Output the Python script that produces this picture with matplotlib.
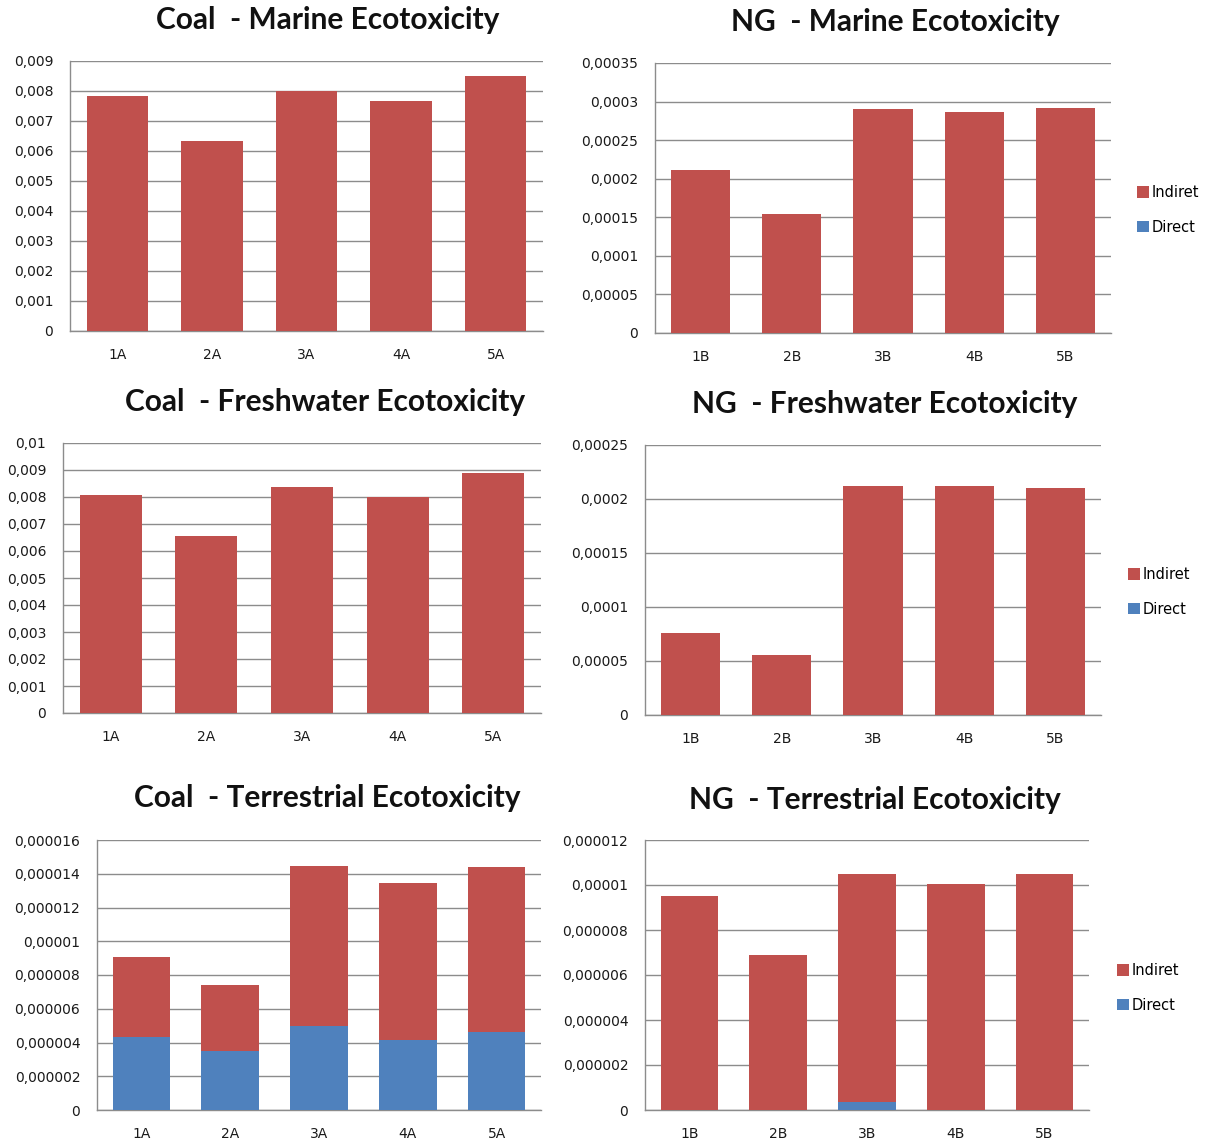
import matplotlib.pyplot as plt
import numpy as np
from matplotlib.patches import Patch
from matplotlib.ticker import FuncFormatter, MultipleLocator

plt.rcParams["font.family"] = ["DejaVu Sans"]

RED = "#C0504D"
BLUE = "#4F81BD"
GRID = "#8C8C8C"

coal_labels = ["1A", "2A", "3A", "4A", "5A"]
ng_labels = ["1B", "2B", "3B", "4B", "5B"]

# impacto directo / indirecto por escenario
coal_marine_direct = [0, 0, 0, 0, 0]
coal_marine_indiret = [0.00783, 0.00632, 0.00801, 0.00766, 0.00851]

ng_marine_direct = [0, 0, 0, 0, 0]
ng_marine_indiret = [0.000211, 0.000154, 0.000291, 0.000287, 0.000292]

coal_fresh_direct = [0, 0, 0, 0, 0]
coal_fresh_indiret = [0.00809, 0.00654, 0.00838, 0.00800, 0.00889]

ng_fresh_direct = [0, 0, 0, 0, 0]
ng_fresh_indiret = [0.0000755, 0.0000553, 0.0002125, 0.0002125, 0.000210]

coal_terr_direct = [0.00000431, 0.00000350, 0.00000497, 0.00000415, 0.00000465]
coal_terr_indiret = [0.00000477, 0.00000388, 0.00000947, 0.00000928, 0.00000977]

ng_terr_direct = [0, 0, 0.00000034, 0, 0]
ng_terr_indiret = [0.00000951, 0.00000691, 0.00001013, 0.00001004, 0.00001047]

W, H = 1214, 1144


def px_axes(fig, left, right, top, bottom):
    return fig.add_axes([left / W, 1 - bottom / H, (right - left) / W, (bottom - top) / H])


def coma(v, pos):
    if abs(v) < 1e-15:
        return "0"
    s = np.format_float_positional(round(v, 10), trim="-")
    return s.replace(".", ",")


def panel(fig, box, title, title_xy, labels, direct, indiret, ymax, step, legend_xy=None):
    ax = px_axes(fig, *box)
    x = np.arange(len(labels))
    ax.bar(x, direct, width=0.65, color=BLUE, edgecolor="none", zorder=3)
    ax.bar(x, indiret, width=0.65, bottom=direct, color=RED, edgecolor="none", zorder=3)
    ax.set_xlim(-0.5, len(labels) - 0.5)
    ax.set_ylim(0, ymax)
    ax.yaxis.set_major_locator(MultipleLocator(step))
    ax.yaxis.set_major_formatter(FuncFormatter(coma))
    ax.grid(axis="y", color=GRID, linewidth=1.0, zorder=0)
    ax.set_xticks(x)
    ax.set_xticklabels(labels)
    ax.tick_params(axis="both", length=0, labelsize=10, colors="#1a1a1a")
    ax.tick_params(axis="y", pad=12)
    ax.tick_params(axis="x", pad=12)
    for side in ("top", "right"):
        ax.spines[side].set_visible(False)
    for side in ("left", "bottom"):
        ax.spines[side].set_color(GRID)
        ax.spines[side].set_linewidth(1.0)
    fig.text(title_xy[0] / W, 1 - title_xy[1] / H, title, ha="center", va="center",
             fontsize=21.5, fontweight="bold", color="#111111",
             family=["Lato", "DejaVu Sans"])
    if legend_xy is not None:
        handles = [Patch(facecolor=RED, label="Indiret"), Patch(facecolor=BLUE, label="Direct")]
        fig.legend(handles=handles, loc="upper left", frameon=False, fontsize=10.5,
                   handlelength=0.8, handleheight=0.8, handletextpad=0.2,
                   labelspacing=1.35, borderpad=0, borderaxespad=0,
                   bbox_to_anchor=(legend_xy[0] / W, 1 - legend_xy[1] / H))
    return ax


fig = plt.figure(figsize=(W / 100, H / 100), dpi=100)

panel(fig, (70, 543, 61, 331), "Coal  - Marine Ecotoxicity", (328, 20),
      coal_labels, coal_marine_direct, coal_marine_indiret, 0.009, 0.001)
panel(fig, (655, 1111, 63, 333), "NG  - Marine Ecotoxicity", (895, 22),
      ng_labels, ng_marine_direct, ng_marine_indiret, 0.00035, 0.00005,
      legend_xy=(1137, 185))
panel(fig, (63, 541, 443, 713), "Coal  - Freshwater Ecotoxicity", (325, 402),
      coal_labels, coal_fresh_direct, coal_fresh_indiret, 0.01, 0.001)
panel(fig, (645, 1101, 445, 715), "NG  - Freshwater Ecotoxicity", (885, 404),
      ng_labels, ng_fresh_direct, ng_fresh_indiret, 0.00025, 0.00005,
      legend_xy=(1128, 567))
panel(fig, (97, 541, 840, 1110), "Coal  - Terrestrial Ecotoxicity", (327, 798),
      coal_labels, coal_terr_direct, coal_terr_indiret, 0.000016, 0.000002)
panel(fig, (645, 1089, 840, 1110), "NG  - Terrestrial Ecotoxicity", (875, 800),
      ng_labels, ng_terr_direct, ng_terr_indiret, 0.000012, 0.000002,
      legend_xy=(1117, 963))

fig.savefig("out.png", dpi=100, facecolor="white")
